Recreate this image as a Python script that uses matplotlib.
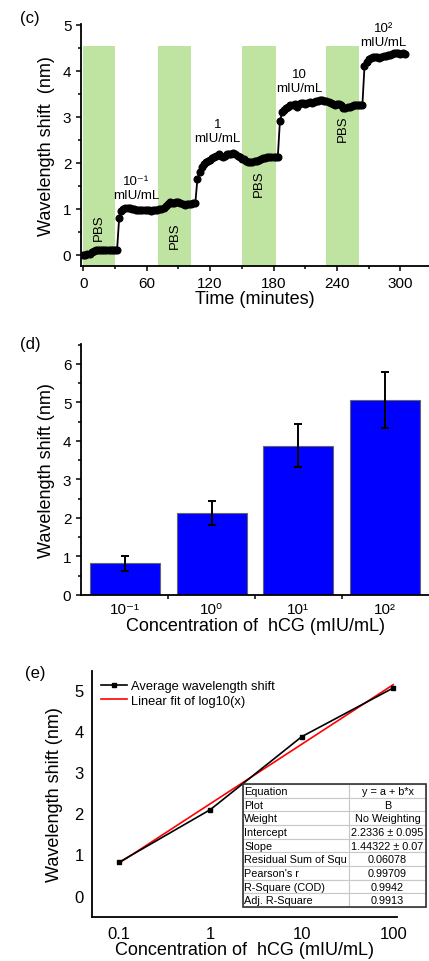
import numpy as np
import matplotlib.pyplot as plt
from matplotlib.patches import Rectangle
from matplotlib.ticker import MultipleLocator, FixedLocator, NullLocator

plt.rcParams['font.family'] = ['Liberation Sans', 'DejaVu Sans']

# (c) time trace
time_min = np.arange(0, 306, 2)
shift_nm = [
    0, 0, 0.01, 0.03, 0.06, 0.08, 0.1, 0.1, 0.1, 0.1, 0.1, 0.1, 0.1, 0.1, 0.1, 0.1, 0.1,
    0.8, 0.95, 1.0, 1.02, 1.03, 1.02, 1.0, 1.0, 0.98, 0.98,
    0.97, 0.97, 0.98, 0.98, 0.97, 0.96, 0.97, 0.98, 0.98, 1.0,
    1.0, 1.03, 1.07, 1.1, 1.15, 1.13, 1.12, 1.15, 1.15, 1.13,
    1.1, 1.08, 1.1, 1.1, 1.1, 1.12, 1.12,
    1.65, 1.8, 1.9, 1.97, 2.02, 2.05, 2.07, 2.1, 2.12, 2.15,
    2.2, 2.15, 2.12, 2.15, 2.2, 2.2, 2.2, 2.22, 2.2, 2.15,
    2.12, 2.08, 2.08, 2.05, 2.03, 2.02, 2.03, 2.05, 2.05, 2.07,
    2.08, 2.1, 2.1, 2.12, 2.13, 2.12, 2.12, 2.12, 2.12,
    2.9, 3.1, 3.15, 3.2, 3.22, 3.25, 3.25, 3.27, 3.22, 3.28,
    3.3, 3.3, 3.28, 3.3, 3.32, 3.3, 3.32, 3.35, 3.35, 3.37,
    3.37, 3.35, 3.35, 3.32, 3.3, 3.28, 3.25, 3.27, 3.28, 3.25,
    3.2, 3.2, 3.22, 3.22, 3.23, 3.25, 3.25, 3.25, 3.25, 3.25,
    4.1, 4.2, 4.25, 4.28, 4.3, 4.3, 4.3, 4.28, 4.3, 4.32,
    4.33, 4.35, 4.35, 4.37, 4.38, 4.38, 4.38, 4.37, 4.38, 4.37,
]
pbs_start = [0, 71, 150, 230]
pbs_end = [30, 102, 182, 261]
pbs_label_y = [0.62, 0.43, 1.56, 2.76]
conc_text = ['10\u207b\u00b9\nmIU/mL', '1\nmIU/mL', '10\nmIU/mL', '10\u00b2\nmIU/mL']
conc_text_x = [50, 127, 204, 284]
conc_text_y = [1.45, 2.7, 3.78, 4.78]

# (d) bars
bar_labels = ['10\u207b\u00b9', '10\u2070', '10\u00b9', '10\u00b2']
bar_means = [0.82, 2.12, 3.88, 5.06]
bar_errs = [0.2, 0.31, 0.55, 0.72]

# (e) fit
conc = [0.1, 1, 10, 100]
avg_shift = [0.81, 2.09, 3.86, 5.04]
fit_a = 2.2336
fit_b = 1.44322
table_rows = [
    ['Equation', 'y = a + b*x'],
    ['Plot', 'B'],
    ['Weight', 'No Weighting'],
    ['Intercept', '2.2336 \u00b1 0.095'],
    ['Slope', '1.44322 \u00b1 0.07'],
    ['Residual Sum of Squ', '0.06078'],
    ["Pearson's r", '0.99709'],
    ['R-Square (COD)', '0.9942'],
    ['Adj. R-Square', '0.9913'],
]

fig = plt.figure(figsize=(4.29, 9.62), dpi=100)

def style(ax):
    for s in ['top', 'right']:
        ax.spines[s].set_visible(False)
    for s in ['left', 'bottom']:
        ax.spines[s].set_linewidth(1.3)
    ax.tick_params(which='both', direction='out', width=1.1, labelsize=11)
    ax.tick_params(which='major', length=3.5)
    ax.tick_params(which='minor', length=2)

# ---- (c)
ax1 = fig.add_axes([0.189, 0.7225, 0.811, 0.2516])
style(ax1)
for s, e in zip(pbs_start, pbs_end):
    ax1.add_patch(Rectangle((s, -0.3), e - s, 4.85, color='#bfe3a0', lw=0, zorder=0))
for s, e, yy in zip(pbs_start, pbs_end, pbs_label_y):
    ax1.text((s + e) / 2, yy, 'PBS', rotation=90, ha='center', va='center', fontsize=9.5)
for tx, xx, yy in zip(conc_text, conc_text_x, conc_text_y):
    ax1.text(xx, yy, tx, ha='center', va='center', fontsize=9.5, linespacing=1.25)
ax1.plot(time_min, shift_nm, '-o', color='black', ms=4.8, lw=1.3, zorder=3)
ax1.set_xlim(-2, 327)
ax1.set_ylim(-0.24, 5.02)
ax1.set_xticks([0, 60, 120, 180, 240, 300])
ax1.xaxis.set_minor_locator(MultipleLocator(30))
ax1.set_yticks([0, 1, 2, 3, 4, 5])
ax1.yaxis.set_minor_locator(MultipleLocator(0.5))
ax1.set_xlabel('Time (minutes)', fontsize=13, labelpad=0)
ax1.set_ylabel('Wavelength shift  (nm)', fontsize=13, labelpad=6)
fig.text(0.07, 0.981, '(c)', fontsize=12, ha='center', va='center')

# ---- (d)
ax2 = fig.add_axes([0.189, 0.3805, 0.811, 0.2609])
style(ax2)
xpos = np.arange(len(bar_means))
ax2.bar(xpos, bar_means, width=0.81, color='#0000ff', edgecolor='#666666', lw=0.8, zorder=2)
ax2.errorbar(xpos, bar_means, yerr=bar_errs, fmt='none', ecolor='black',
             elinewidth=1.4, capsize=3, capthick=1.4, zorder=3)
ax2.set_xlim(-0.51, 3.51)
ax2.set_ylim(0, 6.52)
ax2.set_xticks(xpos)
ax2.set_xticklabels(bar_labels)
ax2.tick_params(axis='x', which='major', length=0, pad=5)
ax2.xaxis.set_minor_locator(FixedLocator([0.5, 1.5, 2.5]))
ax2.tick_params(axis='x', which='minor', length=3)
ax2.set_yticks(range(7))
ax2.yaxis.set_minor_locator(MultipleLocator(0.5))
ax2.set_xlabel('Concentration of  hCG (mIU/mL)', fontsize=13, labelpad=1)
ax2.set_ylabel('Wavelength shift (nm)', fontsize=13, labelpad=6)
fig.text(0.07, 0.642, '(d)', fontsize=12, ha='center', va='center')

# ---- (e)
ax3 = fig.add_axes([0.2145, 0.046, 0.711, 0.2554])
style(ax3)
ax3.set_xscale('log')
ax3.plot(conc, avg_shift, '-s', color='black', ms=3.5, lw=1.2, label='Average wavelength shift', zorder=3)
fit_x = np.array([conc[0], conc[-1]])
ax3.plot(fit_x, fit_a + fit_b * np.log10(fit_x), color='red', lw=1.2, label='Linear fit of log10(x)', zorder=2)
ax3.set_xlim(0.0507, 110)
ax3.set_ylim(-0.51, 5.45)
ax3.xaxis.set_major_locator(FixedLocator(conc))
ax3.xaxis.set_minor_locator(NullLocator())
ax3.set_xticklabels(['0.1', '1', '10', '100'])
ax3.set_yticks(range(6))
ax3.tick_params(which='both', length=0, labelsize=12)
ax3.tick_params(axis='y', pad=6)
ax3.tick_params(axis='x', pad=7)
ax3.set_xlabel('Concentration of  hCG (mIU/mL)', fontsize=13, labelpad=0)
ax3.set_ylabel('Wavelength shift (nm)', fontsize=13, labelpad=8)
ax3.legend(loc='upper left', frameon=False, fontsize=9.3, handlelength=2.0,
           handletextpad=0.35, borderaxespad=0.3, labelspacing=0.2,
           bbox_to_anchor=(0.0, 1.0))
tb = ax3.table(cellText=table_rows, colWidths=[0.58, 0.42], cellLoc='center',
               bbox=[0.495, 0.039, 0.6, 0.501])
tb.auto_set_font_size(False)
tb.set_fontsize(7.8)
for (r, c), cell in tb.get_celld().items():
    cell.set_edgecolor('#c8c8c8')
    cell.set_linewidth(0.8)
    cell.set_facecolor('white')
    cell.set_clip_on(False)
    if c == 0:
        cell._loc = 'left'
        cell.PAD = 0.01
        cell.get_text().set_horizontalalignment('left')
tb.set_clip_on(False)
tb.set_zorder(5)
ax3.add_patch(Rectangle((0.495, 0.039), 0.6, 0.501, transform=ax3.transAxes, fill=False,
                        edgecolor='#333333', lw=1.2, clip_on=False, zorder=6))
fig.text(0.082, 0.30, '(e)', fontsize=12, ha='center', va='center')

fig.savefig('out.png', dpi=100)
